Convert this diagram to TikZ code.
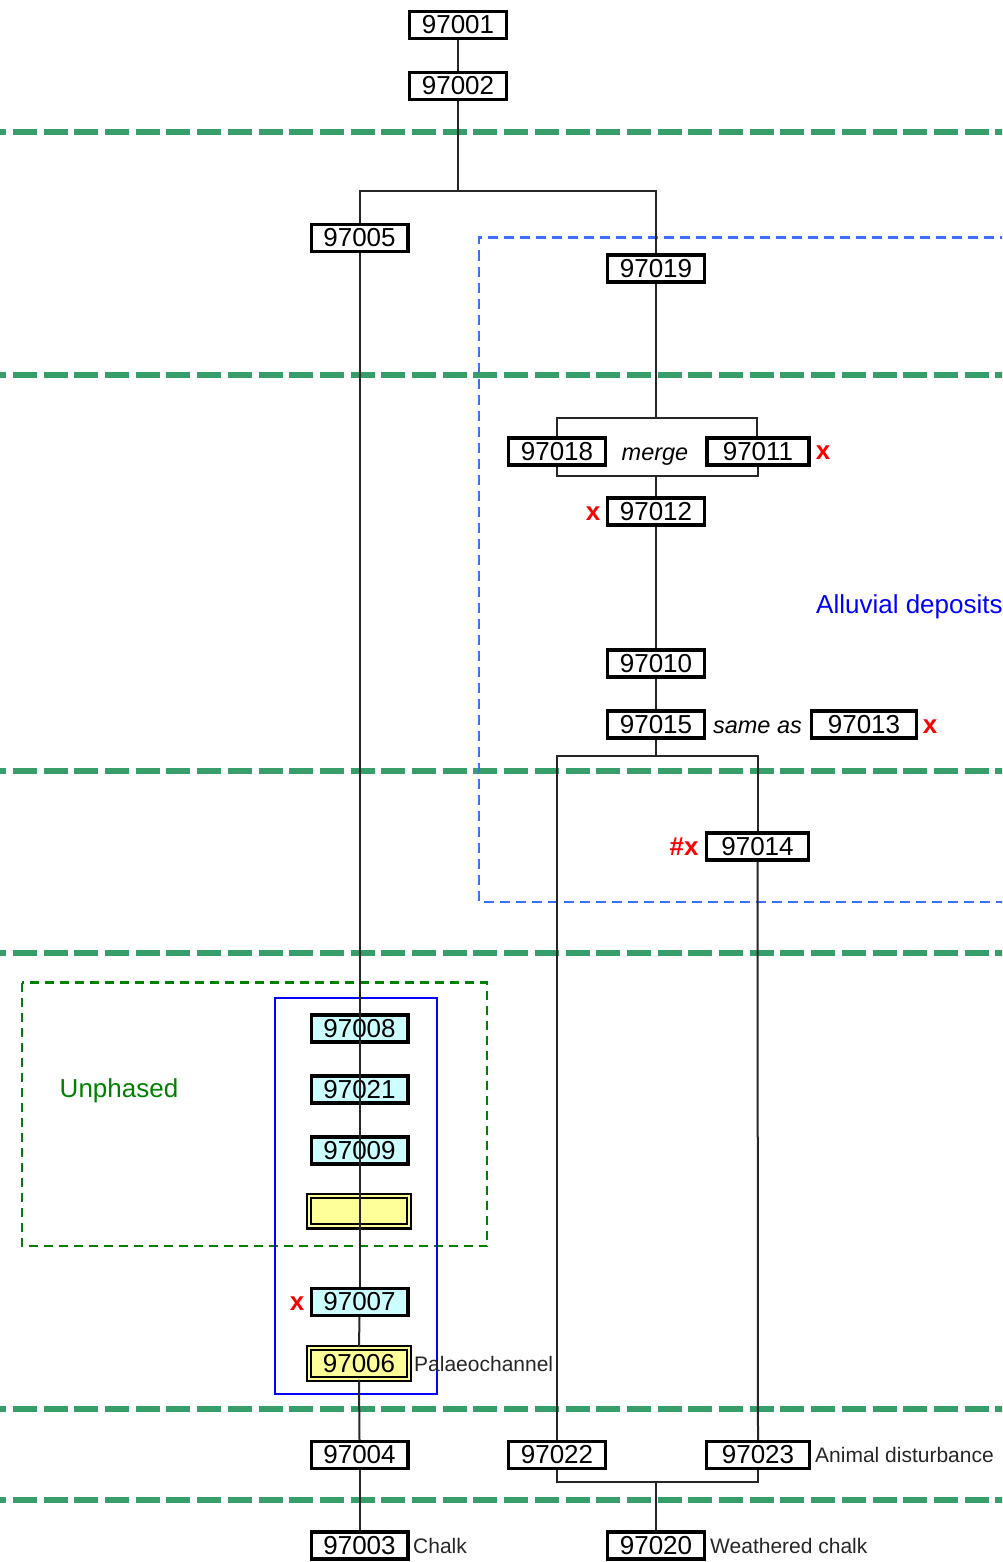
\documentclass[tikz,border=0pt]{standalone}
\usepackage{fontspec}
\setmainfont{Liberation Sans}
\definecolor{cyanc}{RGB}{204,255,255}
\definecolor{yelc}{RGB}{255,255,153}
\definecolor{phasec}{RGB}{55,157,105}
\definecolor{greenc}{RGB}{0,128,0}
\definecolor{bluedc}{RGB}{60,110,255}
\begin{document}
\begin{tikzpicture}[x=1pt,y=-1pt,
  box/.style={draw, line width=3.2pt, minimum width=96.8pt, minimum height=27pt, inner sep=0pt, font=\fontsize{26}{28}\selectfont},
  cyanbox/.style={box, fill=cyanc},
  yelbox/.style={draw, line width=2.2pt, double=yelc, double distance=2pt, fill=yelc, minimum width=99.6pt, minimum height=30.6pt, inner sep=0pt, font=\fontsize{26}{28}\selectfont},
  conn/.style={line width=2pt, black!85},
  note/.style={font=\fontsize{21}{24}\selectfont, anchor=west, inner sep=0pt, text=black!85},
  redx/.style={text=red, font=\bfseries\fontsize{26}{28}\selectfont, inner sep=0pt},
  itl/.style={font=\itshape\fontsize{23.5}{26}\selectfont, inner sep=0pt, anchor=base},
  phase/.style={line width=6pt, color=phasec, dash pattern=on 24pt off 6.7pt},
]
\clip (0,0) rectangle (1002,1562);

% phase separators
\foreach \yy in {132,375,771,953,1409,1500}
  \draw[phase] (-17.8,\yy) -- (1010,\yy);

% groups
\draw[bluedc, line width=2.5pt, dash pattern=on 10pt off 6pt] (1010,237.5) -| (479,902) -- (1010,902);
\draw[greenc, line width=2.5pt, dash pattern=on 9pt off 6pt] (22,982.5) rectangle (487,1246);
\draw[blue, line width=2pt] (275,997.5) rectangle (436.5,1394);
\node[text=greenc, font=\fontsize{26}{28}\selectfont, inner sep=0pt, anchor=base] (unph) at (119,1097) {Unphased};
\node[text=blue, font=\fontsize{26}{28}\selectfont, anchor=base west, inner sep=0pt] (allu) at (816,613) {Alluvial deposits};

% nodes
\node[box] (n97001) at (458,25) {97001};
\node[box] (n97002) at (458,86) {97002};
\node[box] (n97005) at (359.5,238) {97005};
\node[box] (n97019) at (656,268.5) {97019};
\node[box] (n97018) at (557,451.5) {97018};
\node[itl] (mergetxt) at (655,460.5) {merge};
\node[box, minimum width=102pt] (n97011) at (758,451.5) {97011};
\node[redx] (x11) at (823,453) {x};
\node[box] (n97012) at (656,511.5) {97012};
\node[redx] (x12) at (593,514) {x};
\node[box] (n97010) at (656,663.5) {97010};
\node[box] (n97015) at (656,724.5) {97015};
\node[itl] (sameas) at (757.5,733.5) {same as};
\node[box, minimum width=105pt] (n97013) at (864,724.5) {97013};
\node[redx] (x13) at (930,727) {x};
\node[box, minimum width=102pt] (n97014) at (757.5,846.5) {97014};
\node[redx] (x14) at (684,847) {\#x};

\node[cyanbox] (n97008) at (359.5,1028.5) {97008};
\node[cyanbox] (n97021) at (359.5,1089.5) {97021};
\node[cyanbox] (n97009) at (359.5,1150.5) {97009};
\node[yelbox] (nempty) at (359,1211) {};
\node[cyanbox] (n97007) at (359.5,1302) {97007};
\node[redx] (x07) at (297,1304) {x};
\node[yelbox] (n97006) at (359,1363.5) {97006};
\node[note] (palaeo) at (414,1363.5) {Palaeochannel};

\node[box] (n97004) at (359.5,1455) {97004};
\node[box] (n97022) at (557,1455) {97022};
\node[box, minimum width=103pt] (n97023) at (758,1455) {97023};
\node[note] (animal) at (815,1455) {Animal disturbance};
\node[box] (n97003) at (359.5,1545.5) {97003};
\node[note] (chalk) at (413,1545.5) {Chalk};
\node[box] (n97020) at (656,1545.5) {97020};
\node[note] (wchalk) at (710,1545.5) {Weathered chalk};

% junctions
\coordinate (j1) at (458,191);
\coordinate (m1) at (656,418);
\coordinate (m2) at (656,476);
\coordinate (b1) at (656,756);
\coordinate (b2) at (656,1482);

% connectors
\draw[conn] (n97001.south) -- (n97002.north);
\draw[conn] (n97002.south) -- (j1);
\draw[conn] (n97005.north) |- (j1) -| (n97019.north);
\draw[conn] (n97019.south) -- (m1);
\draw[conn] (n97018.north) |- (m1) -| (757,436);
\draw[conn] (n97018.south) |- (m2) -| (n97011.south);
\draw[conn] (m2) -- (n97012.north);
\draw[conn] (n97012.south) -- (n97010.north);
\draw[conn] (n97010.south) -- (n97015.north);
\draw[conn] (n97015.south) -- (b1);
\draw[conn] (n97022.north) |- (b1) -| (n97014.north);
\draw[conn] (n97014.south) -- (n97023.north);
\draw[conn] (n97022.south) |- (b2) -| (n97023.south);
\draw[conn] (b2) -- (n97020.north);
\draw[conn] (n97005.south) -- (n97007.north);
\draw[conn] (n97007.south) -- (n97006.north);
\draw[conn] (n97006.south) -- (n97004.north);
\draw[conn] (n97004.south) -- (n97003.north);
\end{tikzpicture}
\end{document}
